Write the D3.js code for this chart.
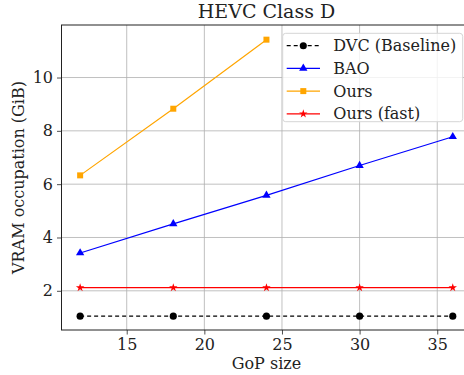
<!DOCTYPE html>
<title>HEVC Class D</title>
<script src="https://cdnjs.cloudflare.com/ajax/libs/d3/7.8.5/d3.min.js"></script>
<style>
    body { margin: 0; background: #fff; }
    text { font-family: "DejaVu Serif", serif; fill: #222; }
</style>
<body>
<script>
    // values
    var gopSizes = [12, 18, 24, 30, 36];
    var dvc = [1.05, 1.05, 1.05, 1.05, 1.05];
    var bao = [3.42, 4.51, 5.58, 6.70, 7.78];
    var ours = [6.33, 8.83, 11.42];
    var oursFast = [2.12, 2.12, 2.12, 2.12, 2.12];
    var xTicks = [15, 20, 25, 30, 35];
    var yTicks = [2, 4, 6, 8, 10];

    var series = [
        { name: "DVC (Baseline)", values: dvc, color: "black", marker: d3.symbolCircle, size: 40, dash: "4,3" },
        { name: "BAO", values: bao, color: "blue", marker: d3.symbolTriangle, size: 30, dash: null },
        { name: "Ours", values: ours, color: "orange", marker: d3.symbolSquare, size: 36, dash: null },
        { name: "Ours (fast)", values: oursFast, color: "red", marker: d3.symbolStar, size: 22, dash: null }
    ];

    var W = 464, H = 375;
    var pL = 61.5, pR = 471.4, pT = 25, pB = 330;

    var x = d3.scaleLinear().domain([10.8, 37.2]).range([pL, pR]);
    var y = d3.scaleLinear().domain([0.53, 11.97]).range([pB, pT]);

    var svg = d3.select("body").append("svg").attr("width", W).attr("height", H);

    // grid
    svg.append("g").selectAll("line").data(xTicks).enter().append("line")
        .attr("x1", d => x(d)).attr("x2", d => x(d)).attr("y1", pT).attr("y2", pB)
        .attr("stroke", "#b0b0b0").attr("stroke-width", 0.8);
    svg.append("g").selectAll("line").data(yTicks).enter().append("line")
        .attr("y1", d => y(d)).attr("y2", d => y(d)).attr("x1", pL).attr("x2", pR)
        .attr("stroke", "#b0b0b0").attr("stroke-width", 0.8);

    // axes
    var xAxis = svg.append("g").attr("transform", "translate(0," + pB + ")")
        .call(d3.axisBottom(x).tickValues(xTicks).tickSize(4.5).tickPadding(4));
    var yAxis = svg.append("g").attr("transform", "translate(" + pL + ",0)")
        .call(d3.axisLeft(y).tickValues(yTicks).tickSize(4.5).tickPadding(4));
    [xAxis, yAxis].forEach(function (a) {
        a.select(".domain").remove();
        a.selectAll("text").style("font-family", "DejaVu Serif").style("font-size", "16px").attr("fill", "#222");
        a.selectAll("line").attr("stroke", "#222").attr("stroke-width", 0.8);
    });

    // frame
    svg.append("rect").attr("x", pL).attr("y", pT)
        .attr("width", pR - pL).attr("height", pB - pT)
        .attr("fill", "none").attr("stroke", "#222").attr("stroke-width", 1);

    // lines and markers
    var line = d3.line().x(d => x(d[0])).y(d => y(d[1]));
    series.forEach(function (s) {
        var pts = s.values.map((v, i) => [gopSizes[i], v]);
        svg.append("path").datum(pts).attr("d", line)
            .attr("fill", "none").attr("stroke", s.color).attr("stroke-width", 1.2)
            .attr("stroke-dasharray", s.dash);
        svg.append("g").selectAll("path").data(pts).enter().append("path")
            .attr("d", d3.symbol().type(s.marker).size(s.size))
            .attr("transform", d => "translate(" + x(d[0]) + "," + y(d[1]) + ")")
            .attr("fill", s.color);
    });

    // title and labels
    svg.append("text").attr("x", (pL + pR) / 2).attr("y", 18)
        .attr("text-anchor", "middle").style("font-size", "19px").text("HEVC Class D");
    svg.append("text").attr("x", (pL + pR) / 2).attr("y", 369)
        .attr("text-anchor", "middle").style("font-size", "16px").text("GoP size");
    svg.append("text").attr("transform", "translate(24," + (pT + pB) / 2 + ") rotate(-90)")
        .attr("text-anchor", "middle").style("font-size", "16px").text("VRAM occupation (GiB)");

    // legend
    var lg = svg.append("g");
    lg.append("rect").attr("x", 282.7).attr("y", 33.3).attr("width", 180).attr("height", 88.4)
        .attr("rx", 3).attr("fill", "white").attr("fill-opacity", 0.8)
        .attr("stroke", "#d5d5d5").attr("stroke-width", 1);
    series.forEach(function (s, i) {
        var yy = 45.7 + i * 22.7;
        lg.append("line").attr("x1", 286.7).attr("x2", 320).attr("y1", yy).attr("y2", yy)
            .attr("stroke", s.color).attr("stroke-width", 1.2).attr("stroke-dasharray", s.dash);
        lg.append("path").attr("d", d3.symbol().type(s.marker).size(s.size))
            .attr("transform", "translate(303.3," + yy + ")").attr("fill", s.color);
        lg.append("text").attr("x", 333.3).attr("y", yy + 5.5).style("font-size", "16px").text(s.name);
    });
</script>
</body>
